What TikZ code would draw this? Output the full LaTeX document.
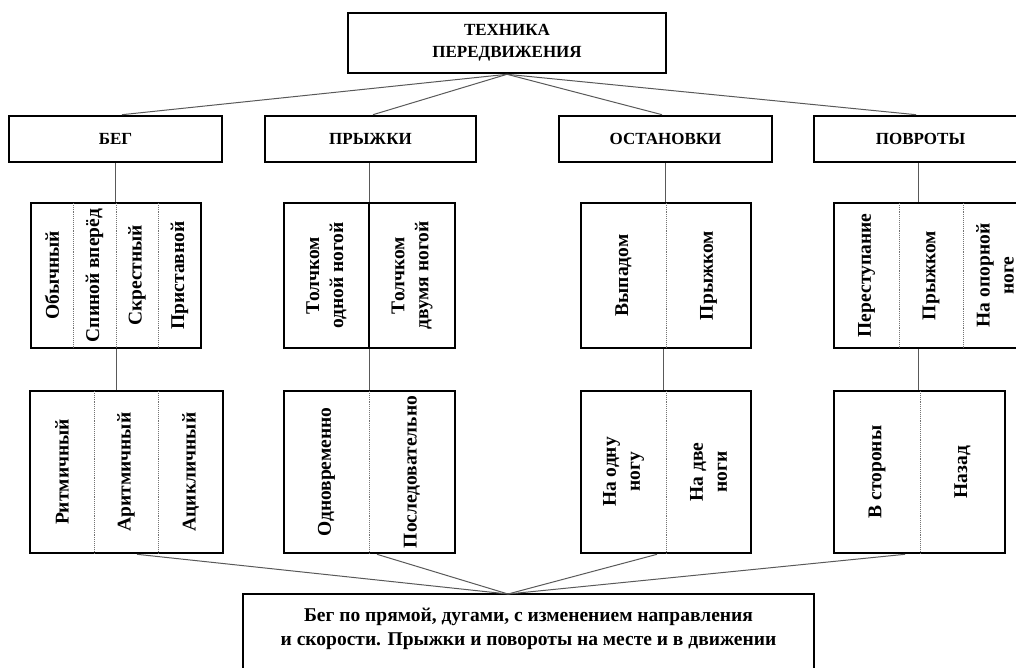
\documentclass[tikz,border=0pt]{standalone}
\usepackage{fontspec}
\setmainfont{Liberation Serif}
\begin{document}
\begin{tikzpicture}[x=1pt,y=-1pt,
  box/.style={draw=black, line width=2.6pt, inner sep=0pt, rectangle},
  conn/.style={draw=black!65, line width=1pt},
  div/.style={draw=black!55, line width=0.9pt, densely dotted},
  soliddiv/.style={draw=black, line width=2.2pt},
  hdr/.style={font=\fontsize{17}{22}\selectfont\bfseries, align=center},
  vtxt/.style={rotate=90, font=\fontsize{19.5}{24}\selectfont\bfseries, align=center, inner sep=0pt},
  btxt/.style={font=\fontsize{19.5}{23.5}\selectfont\bfseries, align=center, inner sep=0pt}]
\useasboundingbox (0,0) rectangle (1016,668);
\clip (0,0) rectangle (1016,668);

% top
\node[box, hdr, minimum width=318pt, minimum height=60pt] (top) at (507,43) {ТЕХНИКА\\ПЕРЕДВИЖЕНИЯ};

% level 2
\node[box, hdr, minimum width=213pt, minimum height=46pt] (beg) at (115.5,139) {БЕГ};
\node[box, hdr, minimum width=211pt, minimum height=46pt] (pry) at (370.5,139) {ПРЫЖКИ};
\node[box, hdr, minimum width=213pt, minimum height=46pt] (ost) at (665.5,139) {ОСТАНОВКИ};
\node[box, hdr, minimum width=213pt, minimum height=46pt] (pov) at (920.5,139) {ПОВРОТЫ};

% sub boxes (y 203-348)
\node[box, minimum width=170pt, minimum height=145pt] (begs) at (116,275.5) {};
\node[box, minimum width=171pt, minimum height=145pt] (prys) at (369.5,275.5) {};
\node[box, minimum width=170pt, minimum height=145pt] (osts) at (666,275.5) {};
\node[box, minimum width=193pt, minimum height=145pt] (povs) at (930.5,275.5) {};

% lower boxes (y 391-553)
\node[box, minimum width=193pt, minimum height=162pt] (begl) at (126.5,472) {};
\node[box, minimum width=171pt, minimum height=162pt] (pryl) at (369.5,472) {};
\node[box, minimum width=170pt, minimum height=162pt] (ostl) at (666,472) {};
\node[box, minimum width=171pt, minimum height=162pt] (povl) at (919.5,472) {};

% bottom box
\node[box, minimum width=571pt, minimum height=90pt] (bot) at (528.5,639) {};
\node[btxt] (bott) at (528.5,629) {Бег по прямой, дугами, с изменением направления\\и скорости. Прыжки и повороты на месте и в движении};
\coordinate (botc) at (508,594);

% dividers
\draw[div] (73,203) -- (73,348);
\draw[div] (116,203) -- (116,348);
\draw[div] (158,203) -- (158,348);
\draw[soliddiv] (369,203) -- (369,348);
\draw[div] (666,203) -- (666,348);
\draw[div] (899,203) -- (899,348);
\draw[div] (963,203) -- (963,348);

\draw[div] (94,391) -- (94,553);
\draw[div] (158,391) -- (158,553);
\draw[div] (369,391) -- (369,553);
\draw[div] (666,391) -- (666,553);
\draw[div] (920,391) -- (920,553);

% texts sub
\node[vtxt] (t1) at (52,275.5) {Обычный};
\node[vtxt] (t2) at (94.5,275.5) {Спиной вперёд};
\node[vtxt] (t3) at (137,275.5) {Скрестный};
\node[vtxt] (t4) at (179.5,275.5) {Приставной};
\node[vtxt] (t5) at (326.5,275.5) {Толчком\\одной ногой};
\node[vtxt] (t6) at (412,275.5) {Толчком\\двумя ногой};
\node[vtxt] (t7) at (623.5,275.5) {Выпадом};
\node[vtxt] (t8) at (708.5,275.5) {Прыжком};
\node[vtxt] (t9) at (866.5,275.5) {Переступание};
\node[vtxt] (t10) at (931,275.5) {Прыжком};
\node[vtxt] (t11) at (995,275.5) {На опорной\\ноге};

% texts lower
\node[vtxt] (u1) at (62,472) {Ритмичный};
\node[vtxt] (u2) at (126,472) {Аритмичный};
\node[vtxt] (u3) at (190.5,472) {Ацикличный};
\node[vtxt] (u4) at (326.5,472) {Одновременно};
\node[vtxt] (u5) at (412,472) {Последовательно};
\node[vtxt] (u6) at (623.5,472) {На одну\\ногу};
\node[vtxt] (u7) at (708.5,472) {На две\\ноги};
\node[vtxt] (u8) at (877,472) {В стороны};
\node[vtxt] (u9) at (962.5,472) {Назад};

% connectors top
\draw[conn] (top.south) -- ([xshift=6.5pt]beg.north);
\draw[conn] (top.south) -- ([xshift=2.5pt]pry.north);
\draw[conn] (top.south) -- ([xshift=-3.5pt]ost.north);
\draw[conn] (top.south) -- ([xshift=-4.5pt]pov.north);

% vertical connectors
\draw[conn] (beg.south) -- (beg.south |- begs.north);
\draw[conn] (begs.south) -- (begs.south |- begl.north);
\draw[conn] ([xshift=-1.5pt]pry.south) -- ([xshift=-1.5pt]pry.south |- prys.north);
\draw[conn] (prys.south) -- (prys.south |- pryl.north);
\draw[conn] (ost.south) -- (ost.south |- osts.north);
\draw[conn] ([xshift=-3pt]osts.south) -- ([xshift=-3pt]osts.south |- ostl.north);
\draw[conn] ([xshift=-2.5pt]pov.south) -- ([xshift=-2.5pt]pov.south |- povs.north);
\draw[conn] ([xshift=-12.5pt]povs.south) -- ([xshift=-12.5pt]povs.south |- povl.north);

% connectors bottom
\draw[conn] ([xshift=10.5pt]begl.south) -- (botc);
\draw[conn] ([xshift=7.5pt]pryl.south) -- (botc);
\draw[conn] ([xshift=-9pt]ostl.south) -- (botc);
\draw[conn] ([xshift=-14.5pt]povl.south) -- (botc);
\end{tikzpicture}
\end{document}
